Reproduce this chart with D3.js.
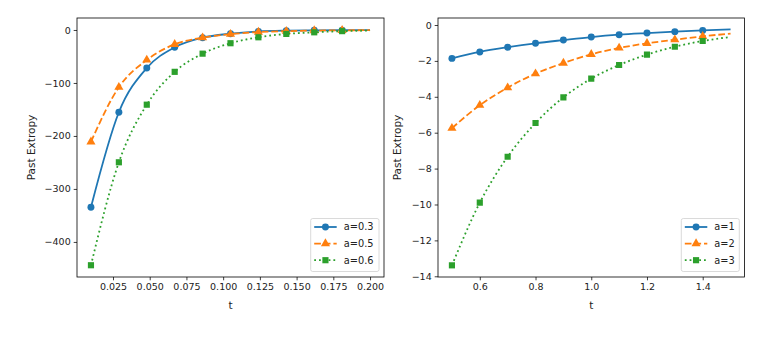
<!DOCTYPE html>
<html>
<head>
<meta charset="utf-8">
<script src="https://cdn.jsdelivr.net/npm/d3@7"></script>
<style>
  body { margin: 0; background: #fff; }
  svg { display: block; font-family: "DejaVu Sans", sans-serif; }
</style>
</head>
<body>
<svg width="769" height="345"></svg>
<script>
// left panel: t in (0.01, 0.2)
var tLeft = [0.01, 0.029, 0.048, 0.067, 0.086, 0.105, 0.124, 0.143, 0.162, 0.181, 0.2];
var leftA03 = [-334.5, -155.3, -71.7, -32.7, -14.5, -7, -2.8, -1.2, -0.6, -0.3, -0.1];
var leftA05 = [-211, -108, -56.6, -27, -14.5, -8, -4, -2.2, -1.2, -0.7, -0.4];
var leftA06 = [-444, -249.7, -141, -79, -44.7, -25, -13.8, -7.5, -4.4, -2.2, -1.2];
var leftXTicks = [0.025, 0.05, 0.075, 0.1, 0.125, 0.15, 0.175, 0.2];
var leftYTicks = [0, -100, -200, -300, -400];
var leftLabels = ["a=0.3", "a=0.5", "a=0.6"];

// right panel: t in (0.5, 1.5)
var tRight = [0.5, 0.6, 0.7, 0.8, 0.9, 1.0, 1.1, 1.2, 1.3, 1.4, 1.5];
var rightA1 = [-1.86, -1.5, -1.24, -1.02, -0.84, -0.67, -0.54, -0.45, -0.37, -0.3, -0.24];
var rightA2 = [-5.75, -4.47, -3.49, -2.71, -2.12, -1.63, -1.28, -1.02, -0.82, -0.63, -0.48];
var rightA3 = [-13.39, -9.9, -7.34, -5.46, -4.03, -2.99, -2.23, -1.65, -1.21, -0.89, -0.67];
var rightXTicks = [0.6, 0.8, 1.0, 1.2, 1.4];
var rightYTicks = [0, -2, -4, -6, -8, -10, -12, -14];
var rightLabels = ["a=1", "a=2", "a=3"];

var colors = ["#1f77b4", "#ff7f0e", "#2ca02c"];
var dashes = [null, "6.7,2.9", "1.8,3.0"];
var shapes = [d3.symbolCircle, d3.symbolTriangle, d3.symbolSquare];
var shapeSizes = [38, 36, 38];
var lineW = 1.8;
var tickFont = 9.5;
var legendFont = 9.8;
var labelFont = 10.5;

var svg = d3.select("svg");

function drawPanel(opts) {
    var xscale = d3.scaleLinear().domain(opts.xdomain).range([opts.left, opts.right]);
    var yscale = d3.scaleLinear().domain(opts.ydomain).range([opts.bottom, opts.top]);
    var g = svg.append("g");

    var clipId = "clip" + opts.id;
    g.append("clipPath").attr("id", clipId)
        .append("rect")
        .attr("x", opts.left).attr("y", opts.top)
        .attr("width", opts.right - opts.left).attr("height", opts.bottom - opts.top);

    var line = d3.line()
        .x(function (d) { return xscale(d[0]); })
        .y(function (d) { return yscale(d[1]); })
        .curve(d3.curveMonotoneX);

    var plot = g.append("g").attr("clip-path", "url(#" + clipId + ")");
    opts.series.forEach(function (vals, i) {
        var pts = opts.t.map(function (t, j) { return [t, vals[j]]; });
        plot.append("path")
            .attr("fill", "none")
            .attr("stroke", colors[i])
            .attr("stroke-width", lineW)
            .attr("stroke-dasharray", dashes[i])
            .attr("d", line(pts));
        // markers on every point but the last
        plot.selectAll(null)
            .data(pts.slice(0, -1))
            .enter().append("path")
            .attr("transform", function (d) { return "translate(" + xscale(d[0]) + "," + yscale(d[1]) + ")"; })
            .attr("d", d3.symbol().type(shapes[i]).size(shapeSizes[i]))
            .attr("fill", colors[i]);
    });

    // axes
    var xAxis = d3.axisBottom(xscale).tickValues(opts.xticks).tickFormat(d3.format(opts.xfmt))
        .tickSize(3.3).tickPadding(3);
    var yAxis = d3.axisLeft(yscale).tickValues(opts.yticks).tickFormat(d3.format("d"))
        .tickSize(3.3).tickPadding(3);

    var gx = g.append("g").attr("transform", "translate(0," + opts.bottom + ")").call(xAxis);
    var gy = g.append("g").attr("transform", "translate(" + opts.left + ",0)").call(yAxis);
    [gx, gy].forEach(function (a) {
        a.select(".domain").remove();
        a.selectAll("line").attr("stroke", "#000").attr("stroke-width", 0.75);
        a.selectAll("text").attr("fill", "#222").style("font-size", tickFont + "px")
            .style("font-family", "DejaVu Sans");
    });

    g.append("rect")
        .attr("x", opts.left).attr("y", opts.top)
        .attr("width", opts.right - opts.left).attr("height", opts.bottom - opts.top)
        .attr("fill", "none").attr("stroke", "#000").attr("stroke-width", 0.8);

    g.append("text")
        .attr("x", (opts.left + opts.right) / 2).attr("y", 308.5)
        .attr("text-anchor", "middle")
        .attr("fill", "#222")
        .style("font-size", labelFont + "px")
        .text("t");

    g.append("text")
        .attr("transform", "translate(" + opts.ylabelX + "," + (opts.top + opts.bottom) / 2 + ") rotate(-90)")
        .attr("text-anchor", "middle")
        .attr("fill", "#222")
        .style("font-size", labelFont + "px")
        .text("Past Extropy");

    // legend
    var lg = g.append("g");
    lg.append("rect")
        .attr("x", opts.legX).attr("y", 218.5)
        .attr("width", opts.legW).attr("height", 53)
        .attr("rx", 2)
        .attr("fill", "#fff").attr("fill-opacity", 0.8)
        .attr("stroke", "#d0d0d0").attr("stroke-width", 0.8);
    opts.labels.forEach(function (lab, i) {
        var y = 227 + i * 16.6;
        var x0 = opts.legX + 3.5;
        lg.append("line")
            .attr("x1", x0).attr("x2", x0 + 22.5)
            .attr("y1", y).attr("y2", y)
            .attr("stroke", colors[i]).attr("stroke-width", lineW)
            .attr("stroke-dasharray", dashes[i]);
        lg.append("path")
            .attr("transform", "translate(" + (x0 + 11.25) + "," + y + ")")
            .attr("d", d3.symbol().type(shapes[i]).size(shapeSizes[i]))
            .attr("fill", colors[i]);
        lg.append("text")
            .attr("x", x0 + 29.5).attr("y", y)
            .attr("dy", "0.35em")
            .attr("fill", "#222")
            .style("font-size", legendFont + "px")
            .text(lab);
    });
}

drawPanel({
    id: "L", left: 77, right: 384, top: 18, bottom: 277,
    xdomain: [0.0005, 0.2095], ydomain: [-466.2, 22.6],
    t: tLeft, series: [leftA03, leftA05, leftA06],
    xticks: leftXTicks, yticks: leftYTicks, xfmt: ".3f",
    labels: leftLabels, legX: 310.7, legW: 68.3, ylabelX: 34.5
});

drawPanel({
    id: "R", left: 438, right: 744.5, top: 18, bottom: 277,
    xdomain: [0.45, 1.55], ydomain: [-14.04, 0.39],
    t: tRight, series: [rightA1, rightA2, rightA3],
    xticks: rightXTicks, yticks: rightYTicks, xfmt: ".1f",
    labels: rightLabels, legX: 681.3, legW: 58, ylabelX: 401
});
</script>
</body>
</html>
